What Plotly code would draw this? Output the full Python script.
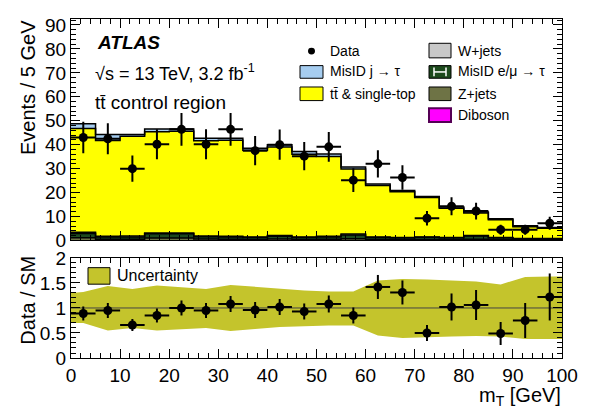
import numpy as np
import plotly.graph_objects as go

# ---------------- data ----------------
bin_edges = [0, 5, 10, 15, 20, 25, 30, 35, 40, 45, 50, 55, 60, 65, 70, 75, 80, 85, 90, 95, 100]
bin_centers = [2.5, 7.5, 12.5, 17.5, 22.5, 27.5, 32.5, 37.5, 42.5, 47.5,
               52.5, 57.5, 62.5, 67.5, 72.5, 77.5, 82.5, 87.5, 92.5, 97.5]

data_counts = [43.0, 42.5, 30.0, 40.2, 46.4, 40.2, 46.4, 37.5, 40.0, 35.2,
               39.1, 25.2, 32.0, 26.3, 9.3, 14.3, 12.3, 4.5, 4.5, 7.2]
data_err = [6.6, 6.5, 5.5, 6.3, 6.8, 6.3, 6.8, 6.1, 6.3, 5.9,
            6.2, 5.0, 5.7, 5.1, 3.0, 3.8, 3.5, 2.1, 2.1, 2.7]

diboson = [0.1, 0.1, 0.1, 0.1, 0.1, 0.1, 0.1, 0.1, 0.1, 0.1,
           0.1, 0.1, 0.1, 0.1, 0.1, 0.1, 0.1, 0.1, 0.05, 0.05]
zjets = [1.0, 0.4, 0.4, 0.9, 0.9, 0.5, 0.4, 0.3, 0.5, 0.3,
         0.4, 0.6, 0.3, 0.3, 0.3, 0.3, 0.4, 0.3, 0.2, 0.2]
misid_lep = [1.8, 1.0, 1.0, 1.8, 1.8, 1.0, 1.0, 0.8, 1.2, 0.8,
             1.0, 1.6, 0.8, 0.7, 0.9, 0.7, 1.4, 0.7, 0.5, 0.5]
wjets = [0.5, 0.3, 0.4, 0.3, 0.3, 0.3, 0.3, 0.2, 0.3, 0.2,
         0.3, 0.4, 0.2, 0.1, 0.2, 0.1, 0.2, 0.1, 0.05, 0.05]
ttbar = [43.4, 40.0, 41.6, 42.3, 42.5, 39.8, 40.1, 36.3, 36.9, 34.6,
         33.3, 27.2, 21.6, 19.1, 16.4, 12.3, 9.4, 7.5, 4.9, 4.3]
misid_jet = [2.0, 2.5, 0.8, 1.2, 1.0, 1.0, 0.8, 0.8, 1.0, 1.2,
             1.0, 0.8, 0.6, 0.6, 0.5, 0.5, 0.4, 0.4, 0.4, 0.3]

ratio = [0.89, 0.95, 0.66, 0.85, 1.0, 0.95, 1.08, 0.96, 1.02, 0.93,
         1.08, 0.85, 1.42, 1.31, 0.50, 1.02, 1.06, 0.49, 0.75, 1.22]
ratio_err = [0.14, 0.15, 0.12, 0.14, 0.15, 0.15, 0.16, 0.16, 0.16, 0.16,
             0.17, 0.16, 0.24, 0.24, 0.16, 0.27, 0.30, 0.23, 0.35, 0.47]

band_x = [0, 2.5, 7.5, 12.5, 17.5, 22.5, 27.5, 32.5, 37.5, 42.5, 47.5,
          52.5, 57.5, 62.5, 67.5, 72.5, 77.5, 82.5, 87.5, 92.5, 97.5, 100]
band_up = [1.30, 1.32, 1.44, 1.38, 1.45, 1.42, 1.38, 1.46, 1.42, 1.38, 1.35,
           1.33, 1.33, 1.55, 1.58, 1.57, 1.55, 1.53, 1.47, 1.62, 1.63, 1.63]
band_lo = [0.70, 0.70, 0.55, 0.60, 0.55, 0.58, 0.60, 0.54, 0.58, 0.62, 0.63,
           0.65, 0.65, 0.45, 0.40, 0.42, 0.43, 0.44, 0.43, 0.38, 0.38, 0.38]

x_ticks = [0, 10, 20, 30, 40, 50, 60, 70, 80, 90, 100]
y_ticks_top = [0, 10, 20, 30, 40, 50, 60, 70, 80, 90]
y_ticks_ratio = [0, 0.5, 1, 1.5, 2]
y_ticklabels_ratio = ["0", "0.5", "1", "1.5", "2"]

# ---------------- styling ----------------
FONT = "Liberation Sans, Arial, Helvetica, sans-serif"
C_TT = "#ffff00"
C_MJ = "#a6cdf0"
C_W = "#c8c8c8"
C_ML = "#1d4a1d"
C_Z = "#6e7345"
C_DB = "#ff00ff"
C_BAND = "#c4c42c"

L, R, T, B = 71, 562, 9, 358
def px(x):
    return (x - L) / (R - L)
def py(y):
    return (B - y) / (B - T)

fig = go.Figure()

stack = [("Diboson", diboson, C_DB), ("Z+jets", zjets, C_Z),
         ("MisID e/mu", misid_lep, C_ML), ("W+jets", wjets, C_W),
         ("ttbar", ttbar, C_TT), ("MisID j", misid_jet, C_MJ)]
for name, vals, col in stack:
    fig.add_trace(go.Bar(x=bin_centers, y=vals, width=5, marker=dict(color=col, line=dict(width=0)),
                         name=name, showlegend=False, xaxis="x", yaxis="y"))

# step outlines
cum = np.zeros(len(bin_centers))
for name, vals, col in stack:
    cum = cum + np.array(vals)
    if name in ("Z+jets", "W+jets", "ttbar", "MisID j", "MisID e/mu"):
        yy = list(cum) + [cum[-1]]
        fig.add_trace(go.Scatter(x=bin_edges, y=yy, mode="lines", line=dict(color="black", width=1.5, shape="hv"),
                                 showlegend=False, hoverinfo="skip", xaxis="x", yaxis="y"))

# data
fig.add_trace(go.Scatter(x=bin_centers, y=data_counts, mode="markers",
                         marker=dict(color="black", size=9),
                         error_y=dict(type="data", array=data_err, color="black", thickness=2, width=0),
                         error_x=dict(type="constant", value=2.5, color="black", thickness=2, width=0),
                         showlegend=False, xaxis="x", yaxis="y"))

# ratio band
fig.add_trace(go.Scatter(x=band_x + band_x[::-1], y=band_up + band_lo[::-1], fill="toself",
                         fillcolor=C_BAND, line=dict(width=0), mode="lines",
                         showlegend=False, hoverinfo="skip", xaxis="x2", yaxis="y2"))
fig.add_trace(go.Scatter(x=[0, 100], y=[1, 1], mode="lines", line=dict(color="#444444", width=1),
                         showlegend=False, hoverinfo="skip", xaxis="x2", yaxis="y2"))
fig.add_trace(go.Scatter(x=bin_centers, y=ratio, mode="markers",
                         marker=dict(color="black", size=9),
                         error_y=dict(type="data", array=ratio_err, color="black", thickness=2, width=0),
                         error_x=dict(type="constant", value=2.5, color="black", thickness=2, width=0),
                         showlegend=False, xaxis="x2", yaxis="y2"))

axis_common = dict(showline=True, linecolor="black", linewidth=1, mirror="ticks", ticks="inside",
                   ticklen=9, tickwidth=1, tickcolor="black", showgrid=False, zeroline=False,
                   tickfont=dict(family=FONT, size=19, color="black"))

top_dom = [py(237), 1.0]
bot_dom = [0.0, py(255)]

fig.update_layout(
    width=596, height=409,
    margin=dict(l=L, r=596 - R, t=T, b=409 - B),
    paper_bgcolor="white", plot_bgcolor="white",
    barmode="stack", bargap=0,
    showlegend=False,
    xaxis=dict(domain=[0, 1], range=[0, 100], anchor="y", tickvals=x_ticks, showticklabels=False,
               minor=dict(ticks="inside", ticklen=5, dtick=2, tickcolor="black", showgrid=False),
               **axis_common),
    yaxis=dict(domain=top_dom, range=[0, 92.5], anchor="x", tickvals=y_ticks_top,
               minor=dict(ticks="inside", ticklen=5, dtick=2, tickcolor="black", showgrid=False),
               **axis_common),
    xaxis2=dict(domain=[0, 1], range=[0, 100], anchor="y2", tickvals=x_ticks, matches="x",
                minor=dict(ticks="inside", ticklen=5, dtick=2, tickcolor="black", showgrid=False),
                **axis_common),
    yaxis2=dict(domain=bot_dom, range=[0, 2], anchor="x2", tickvals=y_ticks_ratio,
                ticktext=y_ticklabels_ratio,
                minor=dict(ticks="inside", ticklen=5, dtick=0.1, tickcolor="black", showgrid=False),
                **axis_common),
)

ann = []
def text(x, y, s, size, xanchor="left", angle=0, bold=False, italic=False, color="black"):
    ann.append(dict(x=px(x), y=py(y), xref="paper", yref="paper", text=s, showarrow=False,
                    xanchor=xanchor, yanchor="middle", textangle=angle,
                    font=dict(family=FONT, size=size, color=color,
                              weight="bold" if bold else "normal",
                              style="italic" if italic else "normal")))

# axis titles
text(28, 80, "Events / 5 GeV", 20, xanchor="center", angle=-90)
text(28, 299, "Data / SM", 20, xanchor="center", angle=-90)
text(563, 398, "m<sub>T</sub> [GeV]", 20, xanchor="right")

# labels
text(95, 33, "ATLAS", 19, bold=True, italic=True)
text(93, 64, "√s = 13 TeV, 3.2 fb<sup>-1</sup>", 18)
text(93, 95, "tt̄ control region", 19)

# legend
shapes = []
def box(x0, y0, x1, y1, fill, line="black", lw=1):
    shapes.append(dict(type="rect", xref="paper", yref="paper", x0=px(x0), x1=px(x1), y0=py(y1), y1=py(y0),
                       fillcolor=fill, line=dict(color=line, width=lw)))
def seg(x0, y0, x1, y1, col, lw):
    shapes.append(dict(type="line", xref="paper", yref="paper", x0=px(x0), x1=px(x1), y0=py(y0), y1=py(y1),
                       line=dict(color=col, width=lw)))

# Data marker
shapes.append(dict(type="circle", xref="paper", yref="paper", x0=px(308), x1=px(315), y0=py(45.5), y1=py(38.5),
                   fillcolor="black", line=dict(color="black", width=0)))
text(328, 42, "Data", 14)
box(300, 57, 323, 70, C_MJ)
text(328, 63, "MisID j → τ", 14)
box(300, 79, 323, 93, C_TT)
text(328, 86, "tt̄ & single-top", 14)

box(429, 34, 451, 49, C_W)
text(456, 42, "W+jets", 14)
box(429, 57, 451, 70, C_ML)
seg(434, 63.5, 446, 63.5, "white", 1.5)
seg(434, 59, 434, 68, "white", 1.5)
seg(446, 59, 446, 68, "white", 1.5)
text(456, 63, "MisID e/μ → τ", 14)
box(429, 79, 451, 93, C_Z)
text(456, 86, "Z+jets", 14)
box(429, 101, 451, 115, C_DB, line="#550055", lw=2)
text(456, 108, "Diboson", 14)

# ratio legend
box(88, 265, 110, 282, C_BAND)
text(115, 273, "Uncertainty", 16)

fig.update_layout(annotations=ann, shapes=shapes)

fig.write_html("out.html")
